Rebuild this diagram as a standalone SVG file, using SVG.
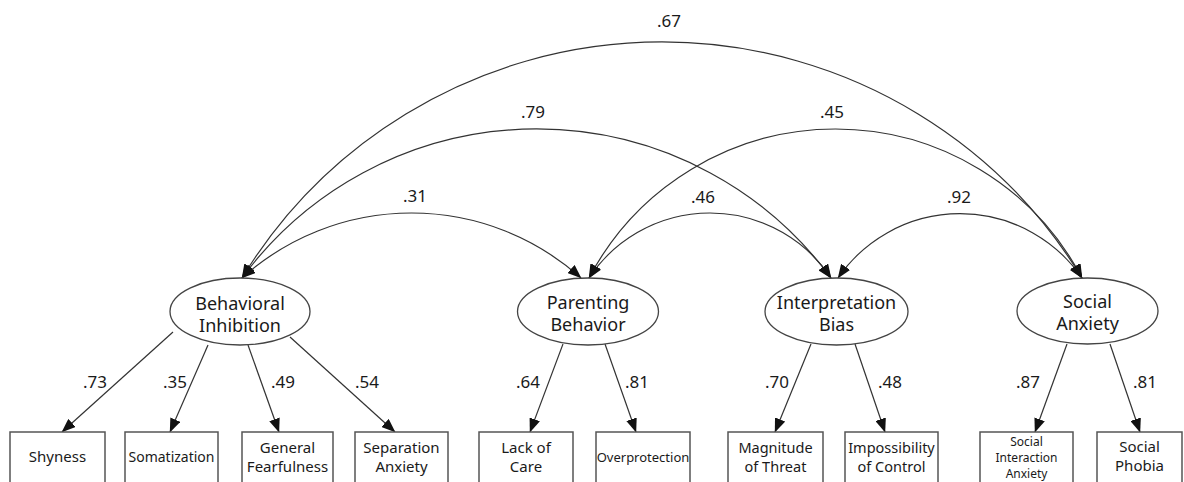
<svg xmlns="http://www.w3.org/2000/svg" width="1184" height="482" viewBox="0 0 1184 482">
<style>
  .bg{fill:#fff}
  .lat{fill:#fff;stroke:#444;stroke-width:1.3}
  .box{fill:#fff;stroke:#555;stroke-width:1.5}
  .lt{font-family:"Noto Sans","Open Sans","DejaVu Sans",sans-serif;font-size:18px;fill:#1a1a1a;text-anchor:middle}
  .bt{font-family:"Noto Sans","Open Sans","DejaVu Sans",sans-serif;font-size:15px;fill:#1a1a1a;text-anchor:middle}
  .num{font-family:"Noto Sans","Open Sans","DejaVu Sans",sans-serif;font-size:17px;fill:#1a1a1a;text-anchor:middle}
  .edge{fill:none;stroke:#333;stroke-width:1.2}
</style>
<defs>
  <marker id="ah" viewBox="0 0 14 11" refX="13.5" refY="5.5" markerWidth="14" markerHeight="11" markerUnits="userSpaceOnUse" orient="auto-start-reverse">
    <path d="M0,0 L14,5.5 L0,11 z" fill="#111"/>
  </marker>
</defs>
<rect class="bg" x="0" y="0" width="1184" height="482"/>

<g id="connectors">
  <!-- covariances -->
  <path class="edge" d="M242,278 A491.7,491.7 0 0 1 1082,278" marker-start="url(#ah)" marker-end="url(#ah)"/>
  <path class="edge" d="M242,278 A365.5,365.5 0 0 1 831,278" marker-start="url(#ah)" marker-end="url(#ah)"/>
  <path class="edge" d="M242,278 A253.5,253.5 0 0 1 581,278" marker-start="url(#ah)" marker-end="url(#ah)"/>
  <path class="edge" d="M589,278 A278.4,278.4 0 0 1 1082,278" marker-start="url(#ah)" marker-end="url(#ah)"/>
  <path class="edge" d="M589,278 A145.1,145.1 0 0 1 831,278" marker-start="url(#ah)" marker-end="url(#ah)"/>
  <path class="edge" d="M838,278 A147.9,147.9 0 0 1 1082,278" marker-start="url(#ah)" marker-end="url(#ah)"/>
  <text class="num" x="669" y="27">.67</text>
  <text class="num" x="533" y="118">.79</text>
  <text class="num" x="832" y="118">.45</text>
  <text class="num" x="415" y="202">.31</text>
  <text class="num" x="703" y="203">.46</text>
  <text class="num" x="959" y="203">.92</text>
  <!-- loadings -->
  <path class="edge" d="M173,332 L62,432" marker-end="url(#ah)"/>
  <path class="edge" d="M208,345 L170,432" marker-end="url(#ah)"/>
  <path class="edge" d="M248,345 L279,432" marker-end="url(#ah)"/>
  <path class="edge" d="M290,337 L395,432" marker-end="url(#ah)"/>
  <path class="edge" d="M563,344 L530,432" marker-end="url(#ah)"/>
  <path class="edge" d="M605,344 L636,432" marker-end="url(#ah)"/>
  <path class="edge" d="M811,344 L775,432" marker-end="url(#ah)"/>
  <path class="edge" d="M855,344 L885,432" marker-end="url(#ah)"/>
  <path class="edge" d="M1067,344 L1035,432" marker-end="url(#ah)"/>
  <path class="edge" d="M1110,344 L1140,432" marker-end="url(#ah)"/>
  <text class="num" x="95" y="388">.73</text>
  <text class="num" x="175" y="388">.35</text>
  <text class="num" x="283" y="388">.49</text>
  <text class="num" x="367" y="388">.54</text>
  <text class="num" x="528" y="388">.64</text>
  <text class="num" x="637" y="388">.81</text>
  <text class="num" x="777" y="388">.70</text>
  <text class="num" x="890" y="388">.48</text>
  <text class="num" x="1028" y="388">.87</text>
  <text class="num" x="1145" y="388">.81</text>
</g>

<g id="behavioral-inhibition">
  <ellipse class="lat" cx="240" cy="311.5" rx="70" ry="33.5"/>
  <text class="lt" x="240" y="310">Behavioral</text>
  <text class="lt" x="240" y="332">Inhibition</text>
</g>
<g id="parenting-behavior">
  <ellipse class="lat" cx="588" cy="311.5" rx="70.5" ry="33.5"/>
  <text class="lt" x="588" y="309">Parenting</text>
  <text class="lt" x="588" y="331">Behavior</text>
</g>
<g id="interpretation-bias">
  <ellipse class="lat" cx="836.5" cy="311.5" rx="71.5" ry="33.5"/>
  <text class="lt" x="836.5" y="309">Interpretation</text>
  <text class="lt" x="836.5" y="331">Bias</text>
</g>
<g id="social-anxiety">
  <ellipse class="lat" cx="1087.5" cy="311" rx="70.5" ry="33"/>
  <text class="lt" x="1087.5" y="308">Social</text>
  <text class="lt" x="1087.5" y="330">Anxiety</text>
</g>

<g id="shyness">
  <rect class="box" x="10" y="432" width="95" height="60"/>
  <text class="bt" x="57.5" y="462">Shyness</text>
</g>
<g id="somatization">
  <rect class="box" x="125" y="432" width="93" height="60"/>
  <text class="bt" x="171.5" y="462" style="font-size:14px">Somatization</text>
</g>
<g id="general-fearfulness">
  <rect class="box" x="242" y="432" width="91" height="60"/>
  <text class="bt" x="287.5" y="453">General</text>
  <text class="bt" x="287.5" y="472">Fearfulness</text>
</g>
<g id="separation-anxiety">
  <rect class="box" x="355" y="432" width="93" height="60"/>
  <text class="bt" x="401.5" y="453">Separation</text>
  <text class="bt" x="401.5" y="472">Anxiety</text>
</g>
<g id="lack-of-care">
  <rect class="box" x="479" y="432" width="94" height="60"/>
  <text class="bt" x="526" y="453">Lack of</text>
  <text class="bt" x="526" y="472">Care</text>
</g>
<g id="overprotection">
  <rect class="box" x="596" y="432" width="94" height="60"/>
  <text class="bt" x="643" y="462" style="font-size:13px">Overprotection</text>
</g>
<g id="magnitude-of-threat">
  <rect class="box" x="728" y="432" width="95" height="60"/>
  <text class="bt" x="775.5" y="453" style="font-size:14.5px">Magnitude</text>
  <text class="bt" x="775.5" y="472" style="font-size:14.5px">of Threat</text>
</g>
<g id="impossibility-of-control">
  <rect class="box" x="845" y="432" width="93" height="60"/>
  <text class="bt" x="891.5" y="453" style="font-size:14.5px">Impossibility</text>
  <text class="bt" x="891.5" y="472" style="font-size:14.5px">of Control</text>
</g>
<g id="social-interaction-anxiety">
  <rect class="box" x="980" y="432" width="93" height="60"/>
  <text class="bt" x="1026.5" y="446" style="font-size:12px">Social</text>
  <text class="bt" x="1026.5" y="462" style="font-size:12px">Interaction</text>
  <text class="bt" x="1026.5" y="478" style="font-size:12px">Anxiety</text>
</g>
<g id="social-phobia">
  <rect class="box" x="1097" y="432" width="85" height="60"/>
  <text class="bt" x="1139.5" y="452">Social</text>
  <text class="bt" x="1139.5" y="471">Phobia</text>
</g>
</svg>
